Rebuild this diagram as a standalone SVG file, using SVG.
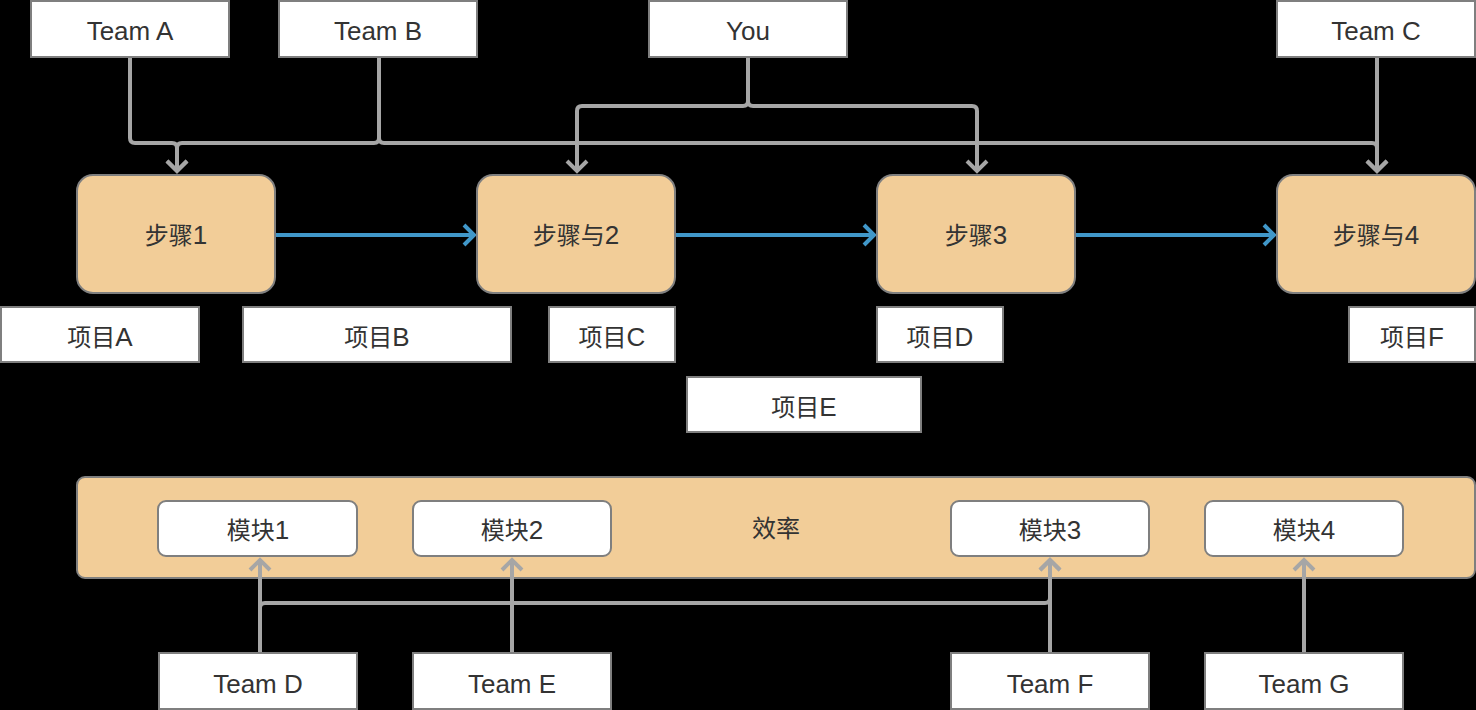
<svg xmlns="http://www.w3.org/2000/svg" width="1476" height="710" viewBox="0 0 1476 710">
<defs>
<style>
.box{fill:#ffffff;stroke:#7f7f7f;stroke-width:2}
.step{fill:#f2cd98;stroke:#7f7f7f;stroke-width:2}
.mod{fill:#ffffff;stroke:#7f7f7f;stroke-width:2}
text{font-family:"Liberation Sans","Noto Sans CJK SC",sans-serif;font-size:24px;fill:#333333;text-anchor:middle;dominant-baseline:central}
text.t,.l{font-size:26px}
.g{fill:none;stroke:#a6a6a6;stroke-width:4;marker-end:url(#ag)}
.b{fill:none;stroke:#4097c9;stroke-width:4;marker-end:url(#ab)}
</style>
<marker id="ag" markerUnits="userSpaceOnUse" markerWidth="30" markerHeight="30" viewBox="-15 -15 30 30" refX="0" refY="0" orient="auto">
<path d="M-10,-10 L0,0 L-10,10" fill="none" stroke="#a6a6a6" stroke-width="4"/>
</marker>
<marker id="ab" markerUnits="userSpaceOnUse" markerWidth="30" markerHeight="30" viewBox="-15 -15 30 30" refX="0" refY="0" orient="auto">
<path d="M-10,-10 L0,0 L-10,10" fill="none" stroke="#4097c9" stroke-width="4"/>
</marker>
</defs>
<rect width="1476" height="710" fill="#000000"/>

<g id="bar"><rect class="step" x="77" y="477" width="1398" height="101" rx="8"/><text x="776" y="528">效率</text></g>

<g id="connectors">
<path class="g" d="M130,57 V138 Q130,143 135,143 H172 Q177,143 177,148 V171"/>
<path class="g" d="M379,57 V138 Q379,143 374,143 H182 Q177,143 177,148 V171"/>
<path class="g" d="M379,57 V138 Q379,143 384,143 H1372 Q1377,143 1377,148 V171"/>
<path class="g" d="M1377,57 V171"/>
<path class="g" d="M748,57 V101 Q748,106 743,106 H582 Q577,106 577,111 V171"/>
<path class="g" d="M748,57 V101 Q748,106 753,106 H972 Q977,106 977,111 V171"/>
<path class="b" d="M275,235 H474"/>
<path class="b" d="M675,235 H874"/>
<path class="b" d="M1075,235 H1274"/>
<path class="g" d="M260,653 V560"/>
<path class="g" d="M260,653 V608 Q260,603 265,603 H1045 Q1050,603 1050,598 V560"/>
<path class="g" d="M512,653 V560"/>
<path class="g" d="M1050,653 V560"/>
<path class="g" d="M1304,653 V560"/>
</g>

<g id="teamA"><rect class="box" x="31" y="1" width="198" height="56"/><text class="t" x="130" y="31">Team A</text></g>
<g id="teamB"><rect class="box" x="279" y="1" width="198" height="56"/><text class="t" x="378" y="31">Team B</text></g>
<g id="you"><rect class="box" x="649" y="1" width="198" height="56"/><text class="t" x="748" y="31">You</text></g>
<g id="teamC"><rect class="box" x="1277" y="1" width="198" height="56"/><text class="t" x="1376" y="31">Team C</text></g>

<g id="step1"><rect class="step" x="77" y="175" width="198" height="118" rx="16"/><text x="176" y="235">步骤<tspan class="l">1</tspan></text></g>
<g id="step2"><rect class="step" x="477" y="175" width="198" height="118" rx="16"/><text x="576" y="235">步骤与<tspan class="l">2</tspan></text></g>
<g id="step3"><rect class="step" x="877" y="175" width="198" height="118" rx="16"/><text x="976" y="235">步骤<tspan class="l">3</tspan></text></g>
<g id="step4"><rect class="step" x="1277" y="175" width="198" height="118" rx="16"/><text x="1376" y="235">步骤与<tspan class="l">4</tspan></text></g>

<g id="itemA"><rect class="box" x="1" y="307" width="198" height="55"/><text x="100" y="337">项目<tspan class="l">A</tspan></text></g>
<g id="itemB"><rect class="box" x="243" y="307" width="268" height="55"/><text x="377" y="337">项目<tspan class="l">B</tspan></text></g>
<g id="itemC"><rect class="box" x="549" y="307" width="126" height="55"/><text x="612" y="337">项目<tspan class="l">C</tspan></text></g>
<g id="itemD"><rect class="box" x="877" y="307" width="126" height="55"/><text x="940" y="337">项目<tspan class="l">D</tspan></text></g>
<g id="itemF"><rect class="box" x="1349" y="307" width="126" height="55"/><text x="1412" y="337">项目<tspan class="l">F</tspan></text></g>
<g id="itemE"><rect class="box" x="687" y="377" width="234" height="55"/><text x="804" y="407">项目<tspan class="l">E</tspan></text></g>

<g id="mod1"><rect class="mod" x="158" y="501" width="199" height="55" rx="8"/><text x="258" y="530">模块<tspan class="l">1</tspan></text></g>
<g id="mod2"><rect class="mod" x="413" y="501" width="198" height="55" rx="8"/><text x="512" y="530">模块<tspan class="l">2</tspan></text></g>
<g id="mod3"><rect class="mod" x="951" y="501" width="198" height="55" rx="8"/><text x="1050" y="530">模块<tspan class="l">3</tspan></text></g>
<g id="mod4"><rect class="mod" x="1205" y="501" width="198" height="55" rx="8"/><text x="1304" y="530">模块<tspan class="l">4</tspan></text></g>

<g id="teamD"><rect class="box" x="159" y="653" width="198" height="56"/><text class="t" x="258" y="684">Team D</text></g>
<g id="teamE"><rect class="box" x="413" y="653" width="198" height="56"/><text class="t" x="512" y="684">Team E</text></g>
<g id="teamF"><rect class="box" x="951" y="653" width="198" height="56"/><text class="t" x="1050" y="684">Team F</text></g>
<g id="teamG"><rect class="box" x="1205" y="653" width="198" height="56"/><text class="t" x="1304" y="684">Team G</text></g>
</svg>
